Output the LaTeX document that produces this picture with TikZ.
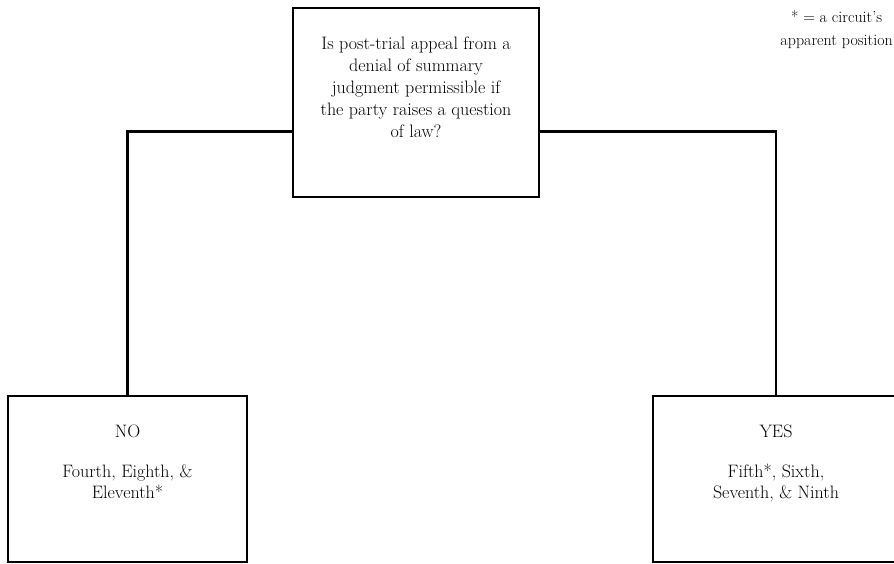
\documentclass[tikz,border=0pt]{standalone}
\begin{document}
\begin{tikzpicture}[x=1pt,y=1pt,
  boxstyle/.style={draw, line width=2.8pt, rectangle, inner sep=0pt},
  txt/.style={align=center, font=\fontsize{18}{22}\selectfont, inner sep=0pt},
  conn/.style={line width=2.8pt}]
\useasboundingbox (0,0) rectangle (894,564);
% boxes
\node[boxstyle, minimum width=246pt, minimum height=189pt] (q) at (416,461.5) {};
\node[boxstyle, minimum width=239pt, minimum height=166pt] (no) at (127.5,85) {};
\node[boxstyle, minimum width=246pt, minimum height=166pt] (yes) at (776,85) {};
% texts
\node[txt, anchor=north] (qt) at ([yshift=-30pt]q.north) {Is post-trial appeal from a\\denial of summary\\judgment permissible if\\the party raises a question\\of law?};
\node[txt, anchor=north, font=\fontsize{18}{21}\selectfont] (not) at ([yshift=-30pt]no.north) {NO\\[19pt]Fourth, Eighth, \&\\Eleventh*};
\node[txt, anchor=north, font=\fontsize{18}{21}\selectfont] (yest) at ([yshift=-30pt]yes.north) {YES\\[19pt]Fifth*, Sixth,\\Seventh, \& Ninth};
\node[txt, anchor=north east, font=\fontsize{16}{23}\selectfont] (leg) at (893,554) {* = a circuit's\\apparent position};
% connectors
\draw[conn] ([yshift=-2.5pt]q.west |- 0,435) -| (no.north);
\draw[conn] ([yshift=-2.5pt]q.east |- 0,435) -| (yes.north);
\end{tikzpicture}
\end{document}
